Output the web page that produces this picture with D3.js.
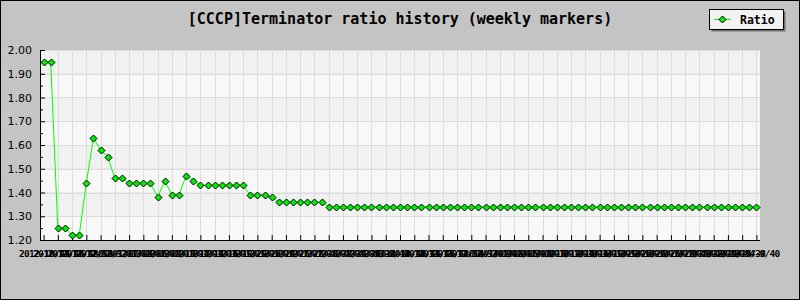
<!DOCTYPE html>
<html>
<head>
<meta charset="utf-8">
<script src="https://cdn.jsdelivr.net/npm/d3@7"></script>
<style>
  body { margin: 0; background: #c4c4c4; }
</style>
</head>
<body>
<div id="c1"></div>
<script>
// weekly ratio values, one per week marker
ratio = [1.95, 1.95, 1.25, 1.25, 1.22, 1.22, 1.44, 1.63, 1.58, 1.55,
  1.46, 1.46, 1.44, 1.44, 1.44, 1.44, 1.38, 1.45, 1.39, 1.39,
  1.47, 1.45, 1.43, 1.43, 1.43, 1.43, 1.43, 1.43, 1.43, 1.39,
  1.39, 1.39, 1.38, 1.36, 1.36, 1.36, 1.36, 1.36, 1.36, 1.36,
  1.34, 1.34, 1.34, 1.34, 1.34, 1.34, 1.34, 1.34, 1.34, 1.34,
  1.34, 1.34, 1.34, 1.34, 1.34, 1.34, 1.34, 1.34, 1.34, 1.34,
  1.34, 1.34, 1.34, 1.34, 1.34, 1.34, 1.34, 1.34, 1.34, 1.34,
  1.34, 1.34, 1.34, 1.34, 1.34, 1.34, 1.34, 1.34, 1.34, 1.34,
  1.34, 1.34, 1.34, 1.34, 1.34, 1.34, 1.34, 1.34, 1.34, 1.34,
  1.34, 1.34, 1.34, 1.34, 1.34, 1.34, 1.34, 1.34, 1.34, 1.34,
  1.34]

// week labels (year-month/week)
weeks = ["2012-10/44", "2012-11/45", "2012-11/46", "2012-11/47", "2012-11/48", "2012-12/49", "2012-12/50", "2012-12/51", "2012-12/52",
  "2013-1/01", "2013-1/02", "2013-1/03", "2013-1/04", "2013-1/05", "2013-2/06", "2013-2/07", "2013-2/08", "2013-2/09",
  "2013-3/10", "2013-3/11", "2013-3/12", "2013-3/13", "2013-4/14", "2013-4/15", "2013-4/16", "2013-4/17", "2013-4/18",
  "2013-5/19", "2013-5/20", "2013-5/21", "2013-5/22", "2013-6/23", "2013-6/24", "2013-6/25", "2013-6/26",
  "2013-7/27", "2013-7/28", "2013-7/29", "2013-7/30", "2013-7/31", "2013-8/32", "2013-8/33", "2013-8/34", "2013-8/35",
  "2013-9/36", "2013-9/37", "2013-9/38", "2013-9/39", "2013-9/40", "2013-10/41", "2013-10/42", "2013-10/43", "2013-10/44",
  "2013-11/45", "2013-11/46", "2013-11/47", "2013-11/48", "2013-12/49", "2013-12/50", "2013-12/51", "2013-12/52",
  "2014-1/01", "2014-1/02", "2014-1/03", "2014-1/04", "2014-1/05", "2014-2/06", "2014-2/07", "2014-2/08", "2014-2/09",
  "2014-3/10", "2014-3/11", "2014-3/12", "2014-3/13", "2014-3/14", "2014-4/15", "2014-4/16", "2014-4/17", "2014-4/18",
  "2014-5/19", "2014-5/20", "2014-5/21", "2014-5/22", "2014-6/23", "2014-6/24", "2014-6/25", "2014-6/26", "2014-6/27",
  "2014-7/28", "2014-7/29", "2014-7/30", "2014-7/31", "2014-8/32", "2014-8/33", "2014-8/34", "2014-8/35",
  "2014-9/36", "2014-9/37", "2014-9/38", "2014-9/39", "2014-9/40"]

yTicks = [1.20, 1.30, 1.40, 1.50, 1.60, 1.70, 1.80, 1.90, 2.00]
yMinor = [1.25, 1.35, 1.45, 1.55, 1.65, 1.75, 1.85, 1.95]

title = "[CCCP]Terminator ratio history (weekly markers)"
seriesName = "Ratio"

margin = {top: 50, right: 40, bottom: 60, left: 40},
  W = 800, H = 300,
  width = W - margin.left - margin.right,
  height = H - margin.top - margin.bottom;

svg = d3.select("#c1")
  .append("svg")
  .attr("width", W)
  .attr("height", H)
  .style("display", "block")

// frame of the whole image
svg.append("rect")
  .attr("x", 0.5).attr("y", 0.5)
  .attr("width", W - 1).attr("height", H - 1)
  .style("fill", "#c4c4c4")
  .style("stroke", "black")

idx = ratio.map((d, i) => i)

x = d3.scalePoint()
  .domain(idx)
  .range([margin.left, margin.left + width])
  .padding(0.5)

y = d3.scaleLinear()
  .domain([1.2, 2.0])
  .range([margin.top + height, margin.top])

// alternating bands between the horizontal grid lines
bands = yTicks.slice(0, -1)
svg.selectAll(".band")
  .data(bands)
  .join("rect")
  .attr("x", margin.left)
  .attr("y", (d, i) => y(yTicks[i + 1]))
  .attr("width", width)
  .attr("height", (d, i) => y(d) - y(yTicks[i + 1]))
  .style("fill", (d, i) => i % 2 == 0 ? "#f8f8f8" : "#f1f1f1")

evens = idx.filter(i => i % 2 == 0)

// grid
svg.append("g")
  .selectAll("line")
  .data(evens.filter(i => i > 0))
  .join("line")
  .attr("x1", d => Math.round(x(d)) + 0.5)
  .attr("x2", d => Math.round(x(d)) + 0.5)
  .attr("y1", margin.top)
  .attr("y2", margin.top + height)
  .style("stroke", "#dcdcdc")

svg.append("g")
  .selectAll("line")
  .data(yTicks.slice(1))
  .join("line")
  .attr("x1", margin.left)
  .attr("x2", margin.left + width)
  .attr("y1", d => Math.round(y(d)) + 0.5)
  .attr("y2", d => Math.round(y(d)) + 0.5)
  .style("stroke", "#dcdcdc")

// y axis, ticks pointing into the plot
svg.append("g")
  .attr("transform", `translate(${margin.left}, 0)`)
  .call(d3.axisLeft(y).tickValues(yMinor).tickSize(-3).tickSizeOuter(0).tickFormat(""))
  .select(".domain").remove()

yAxis = svg.append("g")
  .attr("transform", `translate(${margin.left}, 0)`)
  .call(d3.axisLeft(y).tickValues(yTicks).tickSize(-5).tickSizeOuter(0)
    .tickPadding(8).tickFormat(d3.format(".2f")))
yAxis.selectAll("text")
  .style("font-family", "DejaVu Sans")
  .style("font-size", "11px")
  .style("fill", "black")

// x axis (labels crowd each other, as in the original)
xAxis = svg.append("g")
  .attr("transform", `translate(0, ${margin.top + height})`)
  .call(d3.axisBottom(x).tickValues(evens).tickSize(-5).tickSizeOuter(0)
    .tickPadding(10).tickFormat(i => weeks[i]))
xAxis.selectAll("text")
  .style("font-family", "DejaVu Sans Mono")
  .style("font-weight", "bold")
  .style("font-size", "9.5px")
  .style("letter-spacing", "-0.7px")
  .style("fill", "black")
xAxis.select(".domain")
  .attr("d", `M${margin.left},0.5H${margin.left + width}`)

// the line
line = d3.line()
  .x((d, i) => x(i))
  .y(d => y(d))

svg.append("path")
  .datum(ratio)
  .attr("d", line)
  .style("fill", "none")
  .style("stroke", "#00ff00")
  .style("stroke-width", 1)

diamond = function(cx, cy) {
  return `M${cx},${cy - 3.5}L${cx + 3.5},${cy}L${cx},${cy + 3.5}L${cx - 3.5},${cy}Z`
}

svg.append("g")
  .selectAll("path")
  .data(ratio)
  .join("path")
  .attr("d", (d, i) => diamond(Math.round(x(i)) + 0.5, Math.round(y(d)) + 0.5))
  .style("fill", "#00ee00")
  .style("stroke", "black")
  .style("stroke-width", 1)

// title
svg.append("text")
  .attr("x", W / 2)
  .attr("y", 24)
  .attr("text-anchor", "middle")
  .style("font-family", "DejaVu Sans Mono")
  .style("font-weight", "bold")
  .style("font-size", "15px")
  .text(title)

// legend box with shadow
legend = svg.append("g").attr("transform", "translate(709, 9)")
legend.append("rect")
  .attr("x", 2.5).attr("y", 2.5)
  .attr("width", 74).attr("height", 20)
  .style("fill", "#707070")
legend.append("rect")
  .attr("x", 0.5).attr("y", 0.5)
  .attr("width", 74).attr("height", 20)
  .style("fill", "#f2f2f2")
  .style("stroke", "black")
legend.append("line")
  .attr("x1", 5).attr("x2", 22)
  .attr("y1", 10.5).attr("y2", 10.5)
  .style("stroke", "#00ff00")
legend.append("path")
  .attr("d", diamond(13.5, 10.5))
  .style("fill", "#00ee00")
  .style("stroke", "black")
legend.append("text")
  .attr("x", 31)
  .attr("y", 14.5)
  .style("font-family", "DejaVu Sans Mono")
  .style("font-weight", "bold")
  .style("font-size", "11.5px")
  .text(seriesName)
</script>
</body>
</html>
